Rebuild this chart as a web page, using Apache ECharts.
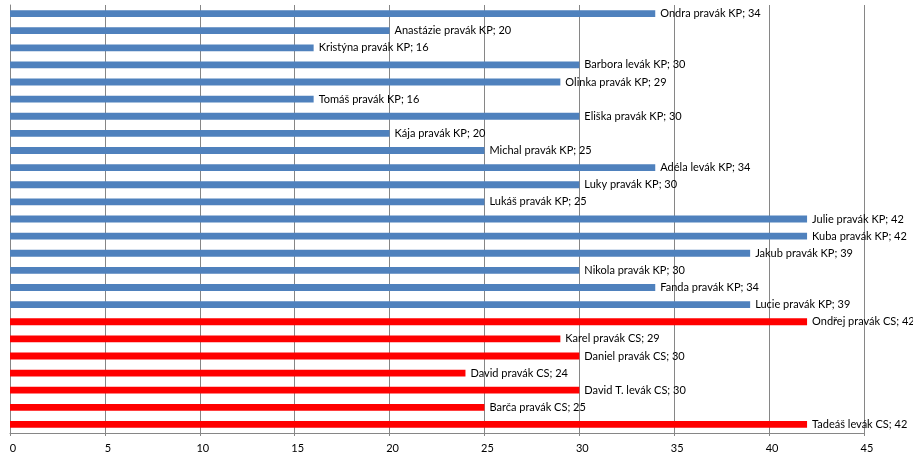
<!DOCTYPE html>
<html>
<head>
<meta charset="utf-8">
<script src="https://cdn.jsdelivr.net/npm/echarts@6/dist/echarts.min.js"></script>
<style>
html,body{margin:0;padding:0;background:#fff;}
#chart{width:913px;height:461px;}
</style>
</head>
<body>
<div id="chart"></div>
<script>
const categories = [
  "Ondra pravák KP", "Anastázie pravák KP", "Kristýna pravák KP", "Barbora levák KP",
  "Olinka pravák KP", "Tomáš pravák KP", "Eliška pravák KP", "Kája pravák KP",
  "Michal pravák KP", "Adéla levák KP", "Luky pravák KP", "Lukáš pravák KP",
  "Julie pravák KP", "Kuba pravák KP", "Jakub pravák KP", "Nikola pravák KP",
  "Fanda pravák KP", "Lucie pravák KP", "Ondřej pravák CS", "Karel pravák CS",
  "Daniel pravák CS", "David pravák CS", "David T. levák CS", "Barča pravák CS",
  "Tadeáš levák CS"
];
const values = [34, 20, 16, 30, 29, 16, 30, 20, 25, 34, 30, 25, 42, 42, 39, 30, 34, 39, 42, 29, 30, 24, 30, 25, 42];
const groups = ["KP","KP","KP","KP","KP","KP","KP","KP","KP","KP","KP","KP","KP","KP","KP","KP","KP","KP","CS","CS","CS","CS","CS","CS","CS"];
const groupColors = { KP: "#4F81BD", CS: "#FF0000" };
const xTicks = { min: 0, max: 45, interval: 5 };

const chart = echarts.init(document.getElementById('chart'));
const font = 'Lato';
chart.setOption({
  animation: false,
  backgroundColor: '#fff',
  grid: { left: 10, right: 49, top: 5, bottom: 28, containLabel: false },
  xAxis: {
    type: 'value', min: xTicks.min, max: xTicks.max, interval: xTicks.interval,
    axisLine: { show: true, lineStyle: { color: '#868686', width: 1 } },
    axisTick: { show: true, length: 3, lineStyle: { color: '#868686' } },
    splitLine: { show: true, lineStyle: { color: '#868686', width: 1 } },
    axisLabel: { color: '#000', fontFamily: font, fontSize: 11, margin: 10, padding: [0, 0, 0, 6] }
  },
  yAxis: {
    type: 'category', data: categories, inverse: true,
    axisLine: { show: true, lineStyle: { color: '#868686', width: 1 } },
    axisTick: { show: false },
    axisLabel: { show: false },
    splitLine: { show: false }
  },
  series: [{
    type: 'bar',
    data: values.map((v, i) => ({ value: v, itemStyle: { color: groupColors[groups[i]] } })),
    barCategoryGap: '60%',
    label: {
      show: true, position: 'right', distance: 5,
      color: '#000', fontFamily: font, fontSize: 11,
      formatter: p => p.name + '; ' + p.value
    }
  }]
});
</script>
</body>
</html>
